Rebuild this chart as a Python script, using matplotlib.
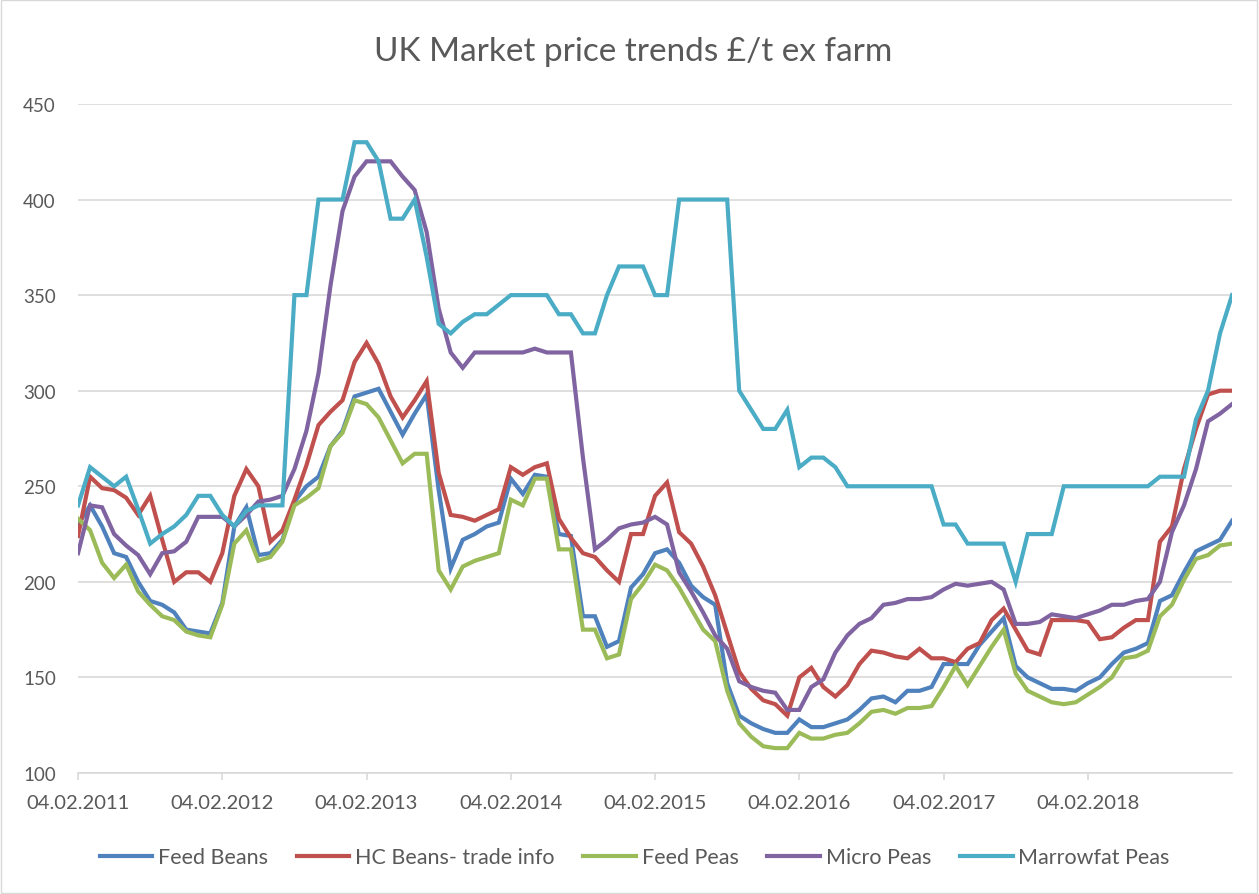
import matplotlib
matplotlib.use('Agg')
import matplotlib.pyplot as plt
from matplotlib.patches import Rectangle

plt.rcParams['font.family'] = ['Lato', 'DejaVu Sans']

# monthly prices from 04.02.2011, £/t ex farm
feed_beans = [230, 240, 229, 215, 213, 200, 190, 188, 184, 175, 174, 173,
              189, 229, 239, 214, 215, 222, 242, 250, 255, 271, 279, 297,
              299, 301, 289, 277, 288, 298, 248, 207, 222, 225, 229, 231,
              254, 246, 256, 255, 225, 224, 182, 182, 166, 169, 197, 204,
              215, 217, 210, 198, 192, 188, 147, 130, 126, 123, 121, 121,
              128, 124, 124, 126, 128, 133, 139, 140, 137, 143, 143, 145,
              157, 157, 157, 167, 174, 181, 156, 150, 147, 144, 144, 143,
              147, 150, 157, 163, 165, 168, 190, 193, 205, 216, 219, 222,
              232]
hc_beans = [224, 255, 249, 248, 244, 235, 245, 222, 200, 205, 205, 200,
            215, 245, 259, 250, 221, 227, 243, 261, 282, 289, 295, 315,
            325, 314, 297, 286, 295, 305, 257, 235, 234, 232, 235, 238,
            260, 256, 260, 262, 233, 223, 215, 213, 206, 200, 225, 225,
            245, 252, 226, 220, 208, 193, 173, 153, 144, 138, 136, 130,
            150, 155, 145, 140, 146, 157, 164, 163, 161, 160, 165, 160,
            160, 158, 165, 168, 180, 186, 175, 164, 162, 180, 180, 180,
            179, 170, 171, 176, 180, 180, 221, 229, 259, 280, 298, 300,
            300]
feed_peas = [233, 227, 210, 202, 209, 195, 188, 182, 180, 174, 172, 171,
             188, 220, 227, 211, 213, 221, 240, 244, 249, 271, 278, 295,
             293, 286, 274, 262, 267, 267, 206, 196, 208, 211, 213, 215,
             243, 240, 254, 254, 217, 217, 175, 175, 160, 162, 191, 199,
             209, 206, 197, 186, 175, 169, 143, 126, 119, 114, 113, 113,
             121, 118, 118, 120, 121, 126, 132, 133, 131, 134, 134, 135,
             145, 156, 146, 156, 166, 175, 152, 143, 140, 137, 136, 137,
             141, 145, 150, 160, 161, 164, 182, 188, 201, 212, 214, 219,
             220]
micro_peas = [215, 240, 239, 225, 219, 214, 204, 215, 216, 221, 234, 234,
              234, 229, 235, 242, 243, 245, 259, 279, 309, 355, 394, 412,
              420, 420, 420, 412, 405, 383, 343, 320, 312, 320, 320, 320,
              320, 320, 322, 320, 320, 320, 265, 217, 222, 228, 230, 231,
              234, 230, 205, 195, 184, 172, 165, 148, 145, 143, 142, 133,
              133, 145, 149, 163, 172, 178, 181, 188, 189, 191, 191, 192,
              196, 199, 198, 199, 200, 196, 178, 178, 179, 183, 182, 181,
              183, 185, 188, 188, 190, 191, 200, 226, 240, 259, 284, 288,
              293]
marrowfat_peas = [240, 260, 255, 250, 255, 238, 220, 225, 229, 235, 245, 245,
                  235, 229, 237, 240, 240, 240, 350, 350, 400, 400, 400, 430,
                  430, 420, 390, 390, 400, 370, 335, 330, 336, 340, 340, 345,
                  350, 350, 350, 350, 340, 340, 330, 330, 350, 365, 365, 365,
                  350, 350, 400, 400, 400, 400, 400, 300, 290, 280, 280, 290,
                  260, 265, 265, 260, 250, 250, 250, 250, 250, 250, 250, 250,
                  230, 230, 220, 220, 220, 220, 200, 225, 225, 225, 250, 250,
                  250, 250, 250, 250, 250, 250, 255, 255, 255, 285, 300, 330,
                  350]

series_names = ['Feed Beans', 'HC Beans- trade info', 'Feed Peas', 'Micro Peas', 'Marrowfat Peas']
tick_labels = ['04.02.2011', '04.02.2012', '04.02.2013', '04.02.2014',
               '04.02.2015', '04.02.2016', '04.02.2017', '04.02.2018']
colors = ['#4F81BD', '#C0504D', '#9BBB59', '#8064A2', '#4BACC6']

grey_text = '#595959'
grid_grey = '#D9D9D9'

fig = plt.figure(figsize=(12.59, 8.95), dpi=100)
ax = fig.add_axes([0.062, 0.1352, 0.9166, 0.7475])

months = list(range(len(feed_beans)))
all_series = [feed_beans, hc_beans, feed_peas, micro_peas, marrowfat_peas]
for values, name, c in zip(all_series, series_names, colors):
    ax.plot(months, values, color=c, lw=3, label=name, solid_joinstyle='miter')

ax.set_xlim(0, len(months) - 1)
ax.set_ylim(100, 450)
ax.set_yticks(range(100, 451, 50))
ax.set_xticks(range(0, 12 * len(tick_labels), 12))
ax.set_xticklabels(tick_labels)

ax.grid(axis='y', color=grid_grey, lw=1.2)
ax.set_axisbelow(True)
for side in ['left', 'right', 'top']:
    ax.spines[side].set_visible(False)
ax.spines['bottom'].set_color(grid_grey)
ax.spines['bottom'].set_linewidth(1.2)
ax.tick_params(axis='y', length=0, pad=16, labelsize=13.5, labelcolor=grey_text)
ax.tick_params(axis='x', length=5, width=1.2, color=grid_grey, pad=10,
               labelsize=14.5, labelcolor=grey_text)

fig.text(0.503, 0.942, 'UK Market price trends £/t ex farm', ha='center', va='center',
         fontsize=24, color=grey_text)

fig.legend(loc='center', bbox_to_anchor=(0.504, 0.041), ncol=5, frameon=False,
           fontsize=15.5, labelcolor=grey_text, handlelength=2.45, handletextpad=0.25,
           columnspacing=1.35)

fig.patches.append(Rectangle((0.0008, 0.001), 0.998, 0.998, transform=fig.transFigure,
                             fill=False, edgecolor=grid_grey, lw=1))

fig.savefig('out.png', dpi=100)
